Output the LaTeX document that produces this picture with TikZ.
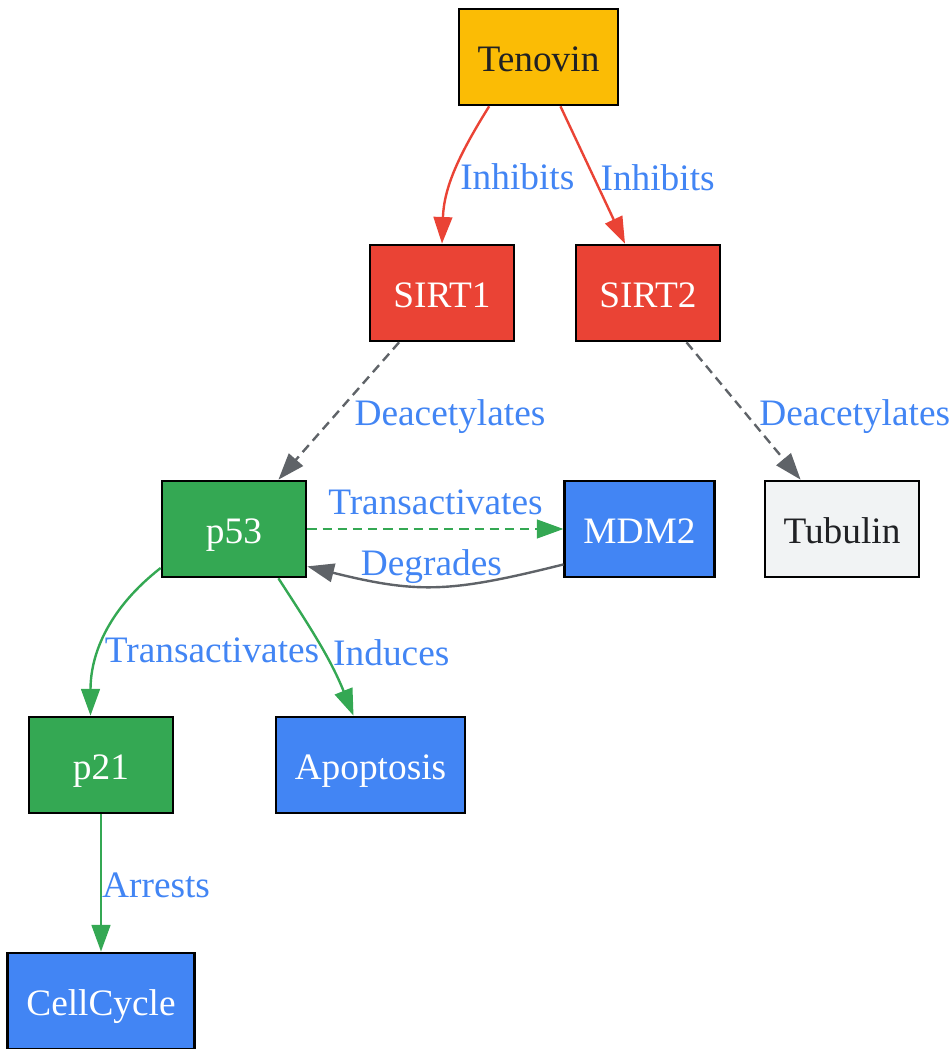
\documentclass[tikz,border=0pt]{standalone}
\usepackage{fontspec}
\setmainfont{Liberation Serif}
\usetikzlibrary{arrows.meta, positioning}
\definecolor{gyellow}{HTML}{FBBC05}
\definecolor{gred}{HTML}{EA4335}
\definecolor{ggreen}{HTML}{34A853}
\definecolor{gblue}{HTML}{4285F4}
\definecolor{glight}{HTML}{F1F3F4}
\definecolor{ggray}{HTML}{5F6368}
\definecolor{gtext}{HTML}{202124}

\begin{document}
\begin{tikzpicture}[x=0.375pt, y=0.375pt,
  font=\fontsize{14}{16.8}\selectfont,
  box/.style={draw, line width=1pt, rectangle, minimum width=54pt, minimum height=36pt, inner xsep=7pt, text height=11pt, text depth=0pt},
  edge/.style={line width=0.9pt, -{Triangle[length=10pt, width=7pt]}},
  lbl/.style={text=gblue, inner sep=1.5pt}]
  \useasboundingbox (0,0) rectangle (952,1049);

  % Drug
  \node[box, fill=gyellow, text=gtext] (tenovin) at (538.5,992) {Tenovin};

  % Sirtuins
  \node[box, fill=gred, text=white] (sirt1) at (442,756) {SIRT1};
  \node[box, fill=gred, text=white] (sirt2) at (648,756) {SIRT2};

  % Targets
  \node[box, fill=ggreen, text=white] (p53) at (234,520) {p53};
  \node[box, fill=gblue, text=white] (mdm2) at (639.5,520) {MDM2};
  \node[box, fill=glight, text=gtext] (tubulin) at (842,520) {Tubulin};

  % Outcomes
  \node[box, fill=ggreen, text=white] (p21) at (101,284) {p21};
  \node[box, fill=gblue, text=white] (apoptosis) at (370.5,284) {Apoptosis};
  \node[box, fill=gblue, text=white] (cellcycle) at (101,48) {CellCycle};

  % Inhibition
  \draw[edge, gred] (tenovin.-135) to[out=-122, in=88] node[lbl, right, pos=0.5, yshift=-2pt] {Inhibits} (sirt1.north);
  \draw[edge, gred] (tenovin.-66) -- node[lbl, right, xshift=1pt, yshift=-1pt] {Inhibits} (sirt2.115);

  % Deacetylation
  \draw[edge, ggray, dashed, dash pattern=on 3.5pt off 2.2pt] (sirt1.-131) -- node[lbl, right, xshift=4pt, yshift=-2.2pt] {Deacetylates} (p53.48);
  \draw[edge, ggray, dashed, dash pattern=on 3.5pt off 2.2pt] (sirt2.-52) -- node[lbl, right, xshift=4pt, yshift=-2.2pt] {Deacetylates} (tubulin.130);

  % p53 loop
  \draw[edge, ggreen, dashed, dash pattern=on 3.5pt off 2.2pt] (p53.east) -- node[lbl, above, yshift=3.5pt] {Transactivates} (mdm2.west);
  \draw[edge, ggray] (mdm2.-155) to[out=-166, in=-14, looseness=1.15] node[lbl, above, pos=0.5, xshift=-1.5pt, yshift=-1pt] {Degrades} (p53.-27);

  % p53 targets
  \draw[edge, ggreen] (p53.-152) to[out=-142, in=90] node[lbl, right, pos=0.62] {Transactivates} (p21.102);
  \draw[edge, ggreen] (p53.-48) to[out=-57, in=112] node[lbl, right, pos=0.56, xshift=1.5pt] {Induces} (apoptosis.109);
  \draw[edge, ggreen] (p21.south) -- node[lbl, right, xshift=-1.5pt, yshift=-0.7pt] {Arrests} (cellcycle.north);
\end{tikzpicture}
\end{document}
